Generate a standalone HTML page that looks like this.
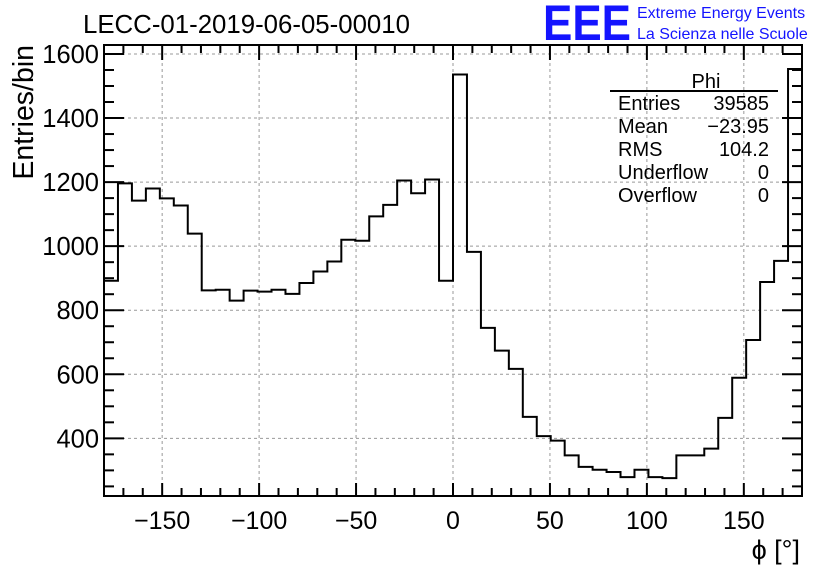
<!DOCTYPE html>
<html><head><meta charset="utf-8">
<style>
html,body{margin:0;padding:0;background:#fff;}
svg{display:block;font-family:"Liberation Sans",sans-serif;}
</style></head>
<body>
<svg id="chart" width="836" height="572" viewBox="0 0 836 572" xmlns="http://www.w3.org/2000/svg">
<rect x="0" y="0" width="836" height="572" fill="#fff"/>
<text x="83" y="33" font-size="25.8" fill="#000">LECC-01-2019-06-05-00010</text>
<text x="543" y="40" font-size="50" font-weight="bold" fill="#1414ff" textLength="88" lengthAdjust="spacingAndGlyphs">EEE</text>
<text x="637" y="18" font-size="16" fill="#1414ff">Extreme Energy Events</text>
<text x="637" y="39" font-size="16" fill="#1414ff">La Scienza nelle Scuole</text>
<g id="grid"></g>
<g id="ticks"></g>
<g id="labels"></g>
<path id="hist" fill="none" stroke="#000" stroke-width="2"/>
<rect x="104" y="45" width="698" height="451" fill="none" stroke="#000" stroke-width="2"/>
<text transform="translate(33,45) rotate(-90)" text-anchor="end" font-size="28.5">Entries/bin</text>
<text x="800" y="559" text-anchor="end" font-size="27">ϕ [°]</text>
<g font-size="20">
<text x="706" y="88" text-anchor="middle">Phi</text>
<line x1="610" y1="91" x2="778" y2="91" stroke="#000" stroke-width="2"/>
<text x="618" y="110">Entries</text><text x="769" y="110" text-anchor="end">39585</text>
<text x="618" y="133">Mean</text><text x="769" y="133" text-anchor="end">−23.95</text>
<text x="618" y="156">RMS</text><text x="769" y="156" text-anchor="end">104.2</text>
<text x="618" y="179">Underflow</text><text x="769" y="179" text-anchor="end">0</text>
<text x="618" y="202">Overflow</text><text x="769" y="202" text-anchor="end">0</text>
</g>
</svg>
<script>
const binCounts = [892,1196,1142,1180,1149,1127,1039,862,864,830,861,858,864,851,885,921,952,1020,1017,1093,1129,1205,1165,1208,892,1536,982,745,674,617,467,407,393,347,311,302,295,279,302,279,276,347,347,368,464,589,707,888,954,1553];
const xTicks = [-150,-100,-50,0,50,100,150];
const yTicks = [400,600,800,1000,1200,1400,1600];
const xMin=-180, xMax=180, yMin=220, yMax=1628;
const L=104,R=802,T=45,B=496;
const NS='http://www.w3.org/2000/svg';
function X(v){return L+(v-xMin)/(xMax-xMin)*(R-L);}
function Y(v){return B-(v-yMin)/(yMax-yMin)*(B-T);}
function mk(tag,attrs,parent){const e=document.createElementNS(NS,tag);for(const k in attrs)e.setAttribute(k,attrs[k]);document.getElementById(parent).appendChild(e);return e;}
xTicks.forEach(t=>{const e=mk('line',{x1:X(t),x2:X(t),y1:T,y2:B,stroke:'#999','stroke-dasharray':'3,3','stroke-width':1},'grid');

});
yTicks.forEach(t=>{const e=mk('line',{x1:L,x2:R,y1:Y(t),y2:Y(t),stroke:'#999','stroke-dasharray':'3,3','stroke-width':1},'grid');

});
for(let v=-170;v<=170;v+=10){const major=v%50===0;const lb=major?13:8,lt=major?15:8;
const a=mk('line',{x1:X(v),x2:X(v),y1:B,y2:B-lb,stroke:'#000','stroke-width':2},'ticks');


const b=mk('line',{x1:X(v),x2:X(v),y1:T,y2:T+lt,stroke:'#000','stroke-width':2},'ticks');

}
for(let v=250;v<=1600;v+=50){const major=v%200===0;const len=major?20:10;
const a=mk('line',{x1:L,x2:L+len,y1:Y(v),y2:Y(v),stroke:'#000','stroke-width':2},'ticks');


const b=mk('line',{x1:R,x2:R-len,y1:Y(v),y2:Y(v),stroke:'#000','stroke-width':2},'ticks');

}
xTicks.forEach(t=>{const e=mk('text',{x:X(t),y:529,'text-anchor':'middle','font-size':25},'labels');e.textContent=t<0?'−'+(-t):String(t);

});
yTicks.forEach(t=>{const e=mk('text',{x:99,y:Y(t)+9,'text-anchor':'end','font-size':25.5},'labels');e.textContent=String(t);

});
const w=(xMax-xMin)/binCounts.length;let d='M'+X(xMin)+','+B;
binCounts.forEach((c,i)=>{d+=' L'+X(xMin+i*w)+','+Y(c)+' L'+X(xMin+(i+1)*w)+','+Y(c);});
d+=' L'+X(xMax)+','+B;
document.getElementById('hist').setAttribute('d',d);
</script>
</body></html>
